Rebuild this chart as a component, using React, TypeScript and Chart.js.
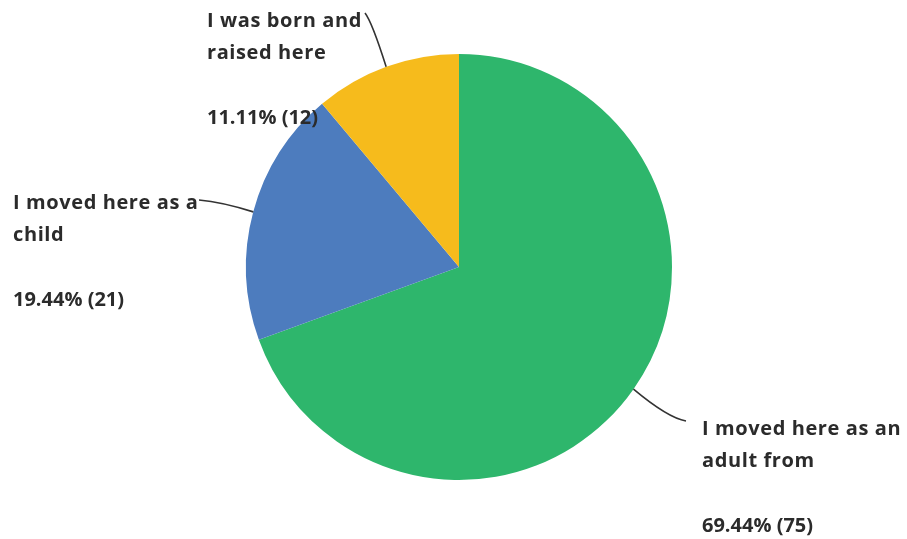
import React, { useEffect, useRef } from "react";
import { Chart, registerables } from "chart.js";

Chart.register(...registerables);

const categories = [
  "I moved here as an adult from",
  "I moved here as a child",
  "I was born and raised here",
];
const counts = [75, 21, 12];
const percents = ["69.44%", "19.44%", "11.11%"];
const labelLines = [
  ["I moved here as an", "adult from"],
  ["I moved here as a", "child"],
  ["I was born and", "raised here"],
];
const colors = ["#2EB66C", "#4D7CBE", "#F6BB1C"];

// label layout: text left x, first baseline y, connector end point, control point
const labelLayout = [
  { tx: 702, ty: 435, ex: 686, ey: 421, cx: 668, cy: 418 },
  { tx: 13, ty: 209, ex: 199, ey: 200, cx: 222, cy: 202 },
  { tx: 207, ty: 27, ex: 365, ey: 13, cx: 372, cy: 22 },
];

const labelPlugin = {
  id: "pieLabels",
  afterDraw(chart: any) {
    const ctx = chart.ctx;
    const meta = chart.getDatasetMeta(0);
    ctx.save();
    meta.data.forEach((arc: any, i: number) => {
      const p = arc.getProps(["x", "y", "startAngle", "endAngle", "outerRadius"], true);
      const mid = (p.startAngle + p.endAngle) / 2;
      const sx = p.x + Math.cos(mid) * p.outerRadius;
      const sy = p.y + Math.sin(mid) * p.outerRadius;
      const L = labelLayout[i];
      ctx.beginPath();
      ctx.strokeStyle = "#333333";
      ctx.lineWidth = 1.6;
      ctx.moveTo(sx, sy);
      ctx.quadraticCurveTo(L.cx, L.cy, L.ex, L.ey);
      ctx.stroke();
      ctx.fillStyle = "#2b2b2b";
      ctx.font = "bold 20px 'Open Sans'";
      try {
        (ctx as any).letterSpacing = "0.6px";
      } catch (e) {}
      ctx.textBaseline = "alphabetic";
      ctx.textAlign = "left";
      const lines = labelLines[i];
      lines.forEach((t, j) => ctx.fillText(t, L.tx, L.ty + j * 32));
      try {
        (ctx as any).letterSpacing = "0px";
      } catch (e) {}
      ctx.fillText(
        `${percents[i]} (${counts[i]})`,
        L.tx,
        L.ty + (lines.length - 1) * 32 + 65
      );
    });
    ctx.restore();
  },
};

export default function App() {
  const ref = useRef<HTMLCanvasElement | null>(null);
  useEffect(() => {
    if (!ref.current) return;
    const chart = new Chart(ref.current, {
      type: "pie",
      data: {
        labels: categories,
        datasets: [
          {
            data: counts,
            backgroundColor: colors,
            borderWidth: 0,
          },
        ],
      },
      options: {
        animation: false,
        responsive: true,
        maintainAspectRatio: false,
        layout: { padding: { left: 246, right: 235, top: 54, bottom: 59 } },
        plugins: {
          legend: { display: false },
          tooltip: { enabled: false },
        },
      },
      plugins: [labelPlugin],
    });
    return () => chart.destroy();
  }, []);
  return (
    <div
      style={{
        position: "absolute",
        left: 0,
        top: 0,
        width: 907,
        height: 539,
        background: "#fff",
      }}
    >
      <canvas ref={ref} />
    </div>
  );
}
